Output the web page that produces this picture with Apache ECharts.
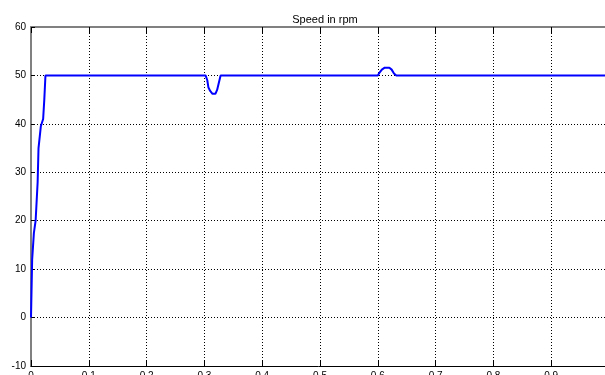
<!DOCTYPE html>
<html>
<head>
<meta charset="utf-8">
<script src="https://cdn.jsdelivr.net/npm/echarts@6/dist/echarts.min.js"></script>
<style>
  html, body { margin: 0; padding: 0; background: #fff; }
  #SpeedChart { width: 605px; height: 375px; }
</style>
</head>
<body>
<div id="SpeedChart"></div>
<script>
// time in seconds, speed in rpm
var timeData = [0, 0.001, 0.002, 0.005, 0.008, 0.0115, 0.013, 0.017, 0.021, 0.023, 0.025,
  0.302, 0.305, 0.307, 0.31, 0.314, 0.319, 0.322, 0.325, 0.328,
  0.6, 0.603, 0.607, 0.612, 0.62, 0.624, 0.628, 0.632, 1.0];
var speedData = [0, 6, 12, 17.5, 20, 28, 35, 39.5, 41, 45, 50,
  50, 49, 47.5, 46.8, 46.2, 46.2, 47, 48.5, 50,
  50, 50.6, 51.2, 51.6, 51.6, 51.2, 50.4, 50, 50];
var xTicks = ['0', '0.1', '0.2', '0.3', '0.4', '0.5', '0.6', '0.7', '0.8', '0.9', '1'];

var points = [];
for (var i = 0; i < timeData.length; i++) {
  points.push([timeData[i], speedData[i]]);
}

var chart = echarts.init(document.getElementById('SpeedChart'), null, { renderer: 'canvas' });

var gridLine = { show: true, lineStyle: { color: '#000', width: 1, type: [1, 2] } };
var labelFont = { color: '#000', fontSize: 10, fontFamily: 'Liberation Sans' };

chart.setOption({
  backgroundColor: '#fff',
  animation: false,
  title: {
    text: 'Speed in rpm',
    left: 320,
    textAlign: 'center',
    top: 9,
    textStyle: { fontSize: 11, fontWeight: 'normal', color: '#000', fontFamily: 'Liberation Sans' }
  },
  grid: { left: 31, top: 27, width: 578, height: 339, outerBoundsMode: 'none', containLabel: false },
  xAxis: [{
    type: 'value',
    position: 'bottom',
    min: 0, max: 1, interval: 0.1,
    axisLine: { onZero: false, lineStyle: { color: '#000', width: 1 } },
    axisTick: { inside: true, length: 6, lineStyle: { color: '#000' } },
    axisLabel: Object.assign({
      margin: 5,
      formatter: function (v) { return xTicks[Math.round(v * 10)]; }
    }, labelFont),
    splitLine: gridLine
  }, {
    type: 'value',
    position: 'top',
    min: 0, max: 1, interval: 0.1,
    axisLine: { onZero: false, lineStyle: { color: '#808080', width: 2 } },
    axisTick: { inside: true, length: 6, lineStyle: { color: '#000' } },
    axisLabel: { show: false },
    splitLine: { show: false }
  }],
  yAxis: {
    type: 'value',
    min: -10, max: 60, interval: 10,
    axisLine: { show: true, onZero: false, lineStyle: { color: '#808080', width: 2 } },
    axisTick: { show: true, inside: true, length: 4, lineStyle: { color: '#000' } },
    axisLabel: Object.assign({ margin: 5 }, labelFont),
    splitLine: gridLine
  },
  series: [{
    type: 'line',
    xAxisIndex: 0,
    data: points,
    showSymbol: false,
    lineStyle: { color: '#0000ff', width: 2 }
  }]
});
</script>
</body>
</html>
